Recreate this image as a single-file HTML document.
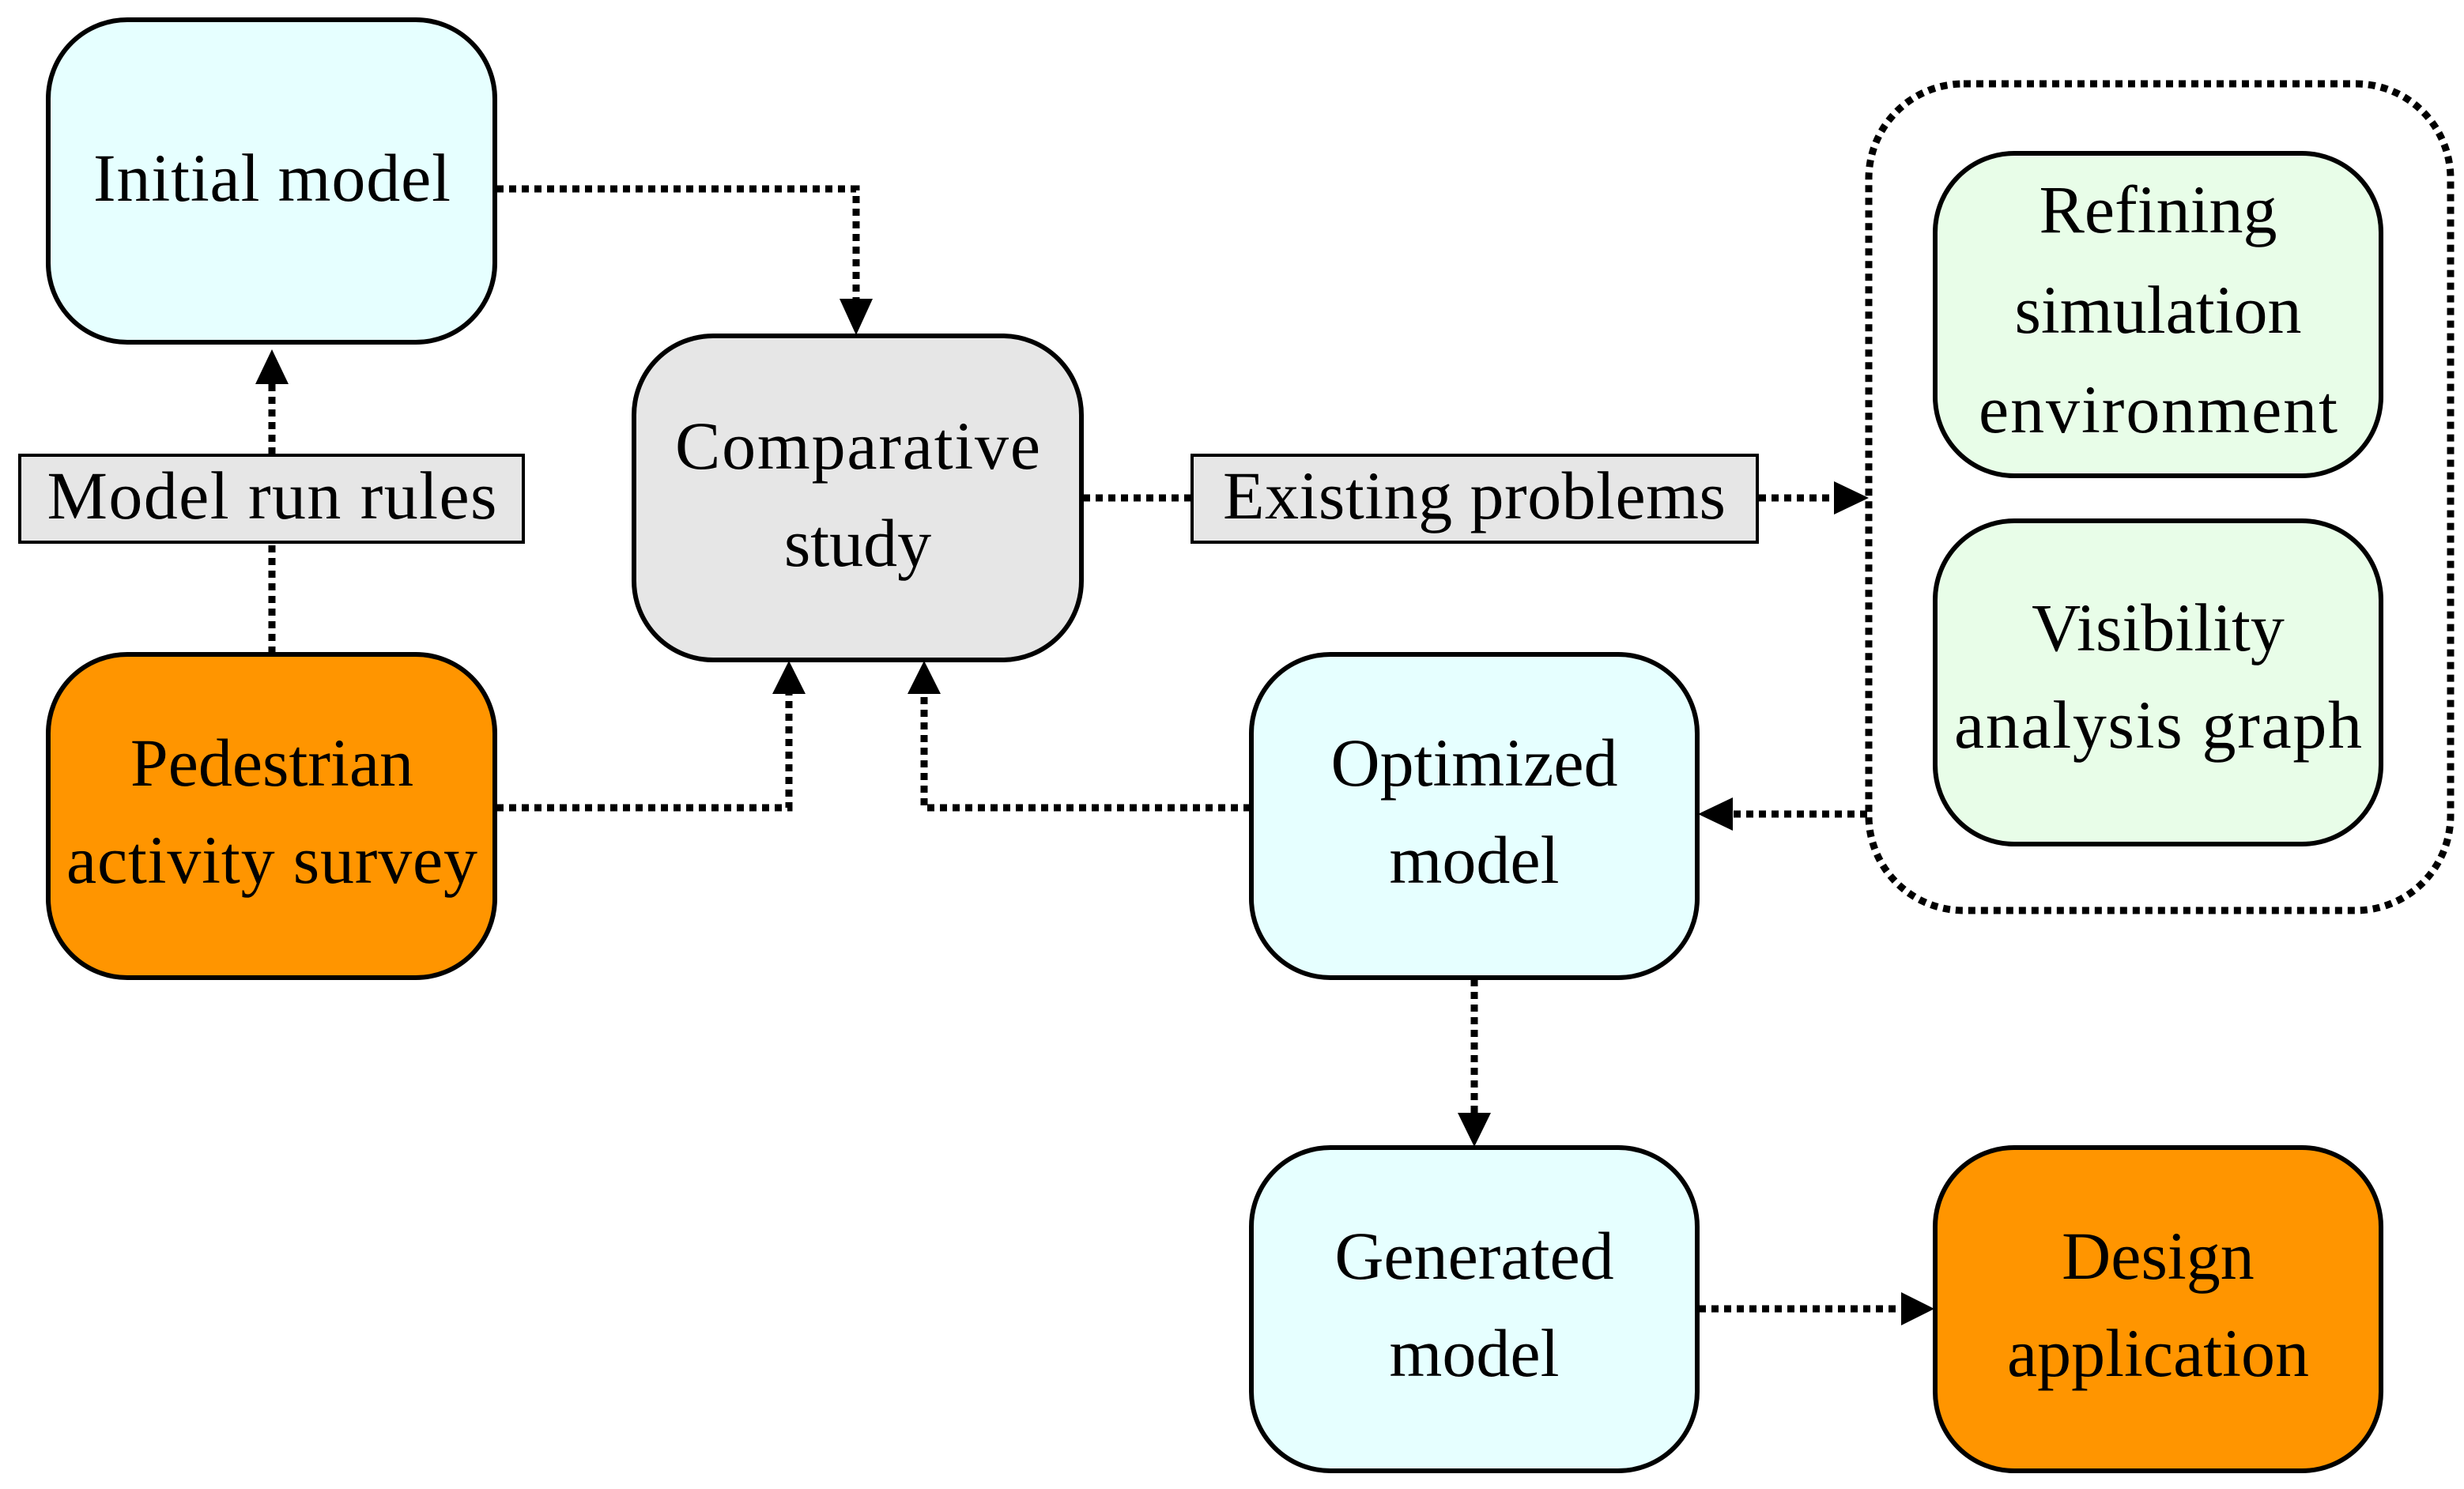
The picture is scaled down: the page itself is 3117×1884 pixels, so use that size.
<!DOCTYPE html>
<html><head><meta charset="utf-8"><style>
html,body{margin:0;padding:0;background:#fff;}
svg{display:block}
text{font-family:"Liberation Serif",serif;font-size:86px;fill:#000;text-anchor:middle}
</style></head><body>
<svg width="3117" height="1884" viewBox="0 0 3117 1884" xmlns="http://www.w3.org/2000/svg">
<g fill="none" stroke="#000" stroke-width="9" stroke-dasharray="9 7">
<rect x="2364" y="106" width="736" height="1046" rx="120" ry="120"/>
<polyline points="628,239 1083,239 1083,380"/>
<line x1="344" y1="827" x2="344" y2="688"/>
<line x1="344" y1="575" x2="344" y2="482"/>
<polyline points="628,1022 998,1022 998,876"/>
<polyline points="1582,1022 1169,1022 1169,876"/>
<line x1="1370" y1="630" x2="1507" y2="630"/>
<line x1="2225" y1="630" x2="2322" y2="630"/>
<line x1="2362" y1="1030" x2="2190" y2="1030"/>
<line x1="1865" y1="1239" x2="1865" y2="1410"/>
<line x1="2149" y1="1656" x2="2405" y2="1656"/>
</g>
<g fill="#000">
<polygon points="1062,378 1104,378 1083,424"/>
<polygon points="323,486 365,486 344,442"/>
<polygon points="977,878 1019,878 998,836"/>
<polygon points="1148,878 1190,878 1169,836"/>
<polygon points="2320,609 2320,651 2364,630"/>
<polygon points="2192,1009 2192,1051 2148,1030"/>
<polygon points="1844,1408 1886,1408 1865,1451"/>
<polygon points="2405,1635 2405,1677 2447,1656"/>
</g>
<g stroke="#000" stroke-width="6">
<rect x="61" y="25" width="565" height="408" rx="100" fill="#E6FFFF"/>
<rect x="802" y="425" width="566" height="410" rx="100" fill="#E6E6E6"/>
<rect x="61" y="828" width="565" height="409" rx="100" fill="#FF9500"/>
<rect x="1583" y="828" width="564" height="409" rx="100" fill="#E6FFFF"/>
<rect x="1583" y="1452" width="564" height="409" rx="100" fill="#E6FFFF"/>
<rect x="2448" y="1452" width="564" height="409" rx="100" fill="#FF9500"/>
<rect x="2448" y="194" width="564" height="408" rx="100" fill="#E8FDE8"/>
<rect x="2448" y="659" width="564" height="409" rx="100" fill="#E8FDE8"/>
<rect x="25" y="576" width="637" height="110" fill="#E6E6E6" stroke-width="4"/>
<rect x="1508" y="576" width="715" height="110" fill="#E6E6E6" stroke-width="4"/>
</g>
<text x="344" y="254" textLength="452">Initial model</text>
<text x="1085" y="593" textLength="462">Comparative</text>
<text x="1085" y="716">study</text>
<text x="344" y="656" textLength="569">Model run rules</text>
<text x="1865" y="656" textLength="636">Existing problems</text>
<text x="344" y="994">Pedestrian</text>
<text x="344" y="1117" textLength="520">activity survey</text>
<text x="1865" y="994">Optimized</text>
<text x="1865" y="1117">model</text>
<text x="2730" y="294">Refining</text>
<text x="2730" y="421">simulation</text>
<text x="2730" y="547" textLength="454">environment</text>
<text x="2730" y="823">Visibility</text>
<text x="2730" y="946" textLength="516">analysis graph</text>
<text x="1865" y="1618">Generated</text>
<text x="1865" y="1741">model</text>
<text x="2730" y="1618">Design</text>
<text x="2730" y="1741">application</text>
</svg>
</body></html>
